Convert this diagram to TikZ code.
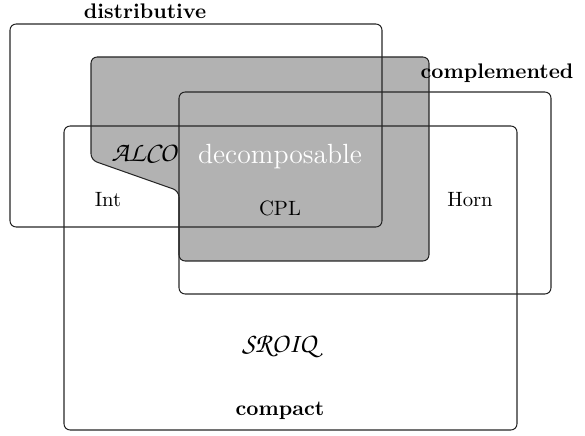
\documentclass[tikz,border=0pt]{standalone}
\newcommand\chancery[1]{{\fontencoding{T1}\fontfamily{pzc}\fontseries{mb}\fontshape{it}\fontsize{13.5}{16}\selectfont #1}}
\begin{document}
\begin{tikzpicture}[x=0.483pt,y=-0.483pt,
  region/.style={draw=black!85,line width=0.5pt,rounded corners=3pt},
  shaded/.style={region,fill=black!30},
  lbl/.style={inner sep=0pt,font=\normalsize},
  title/.style={inner sep=0pt,font=\fontsize{10.2}{12}\bfseries}]
\useasboundingbox (0,0) rectangle (585,436);

% shaded decomposable area
\draw[shaded] (91,57) -- (429,57) -- (429,261) -- (179,261) -- (179,191)
  -- (91,160) -- cycle;

% the four classes
\draw[region] (10,24) rectangle (382,227);    % distributive
\draw[region] (179,92) rectangle (551,294);   % complemented
\draw[region] (64,126) rectangle (517,430);   % compact

% titles
\node[title] (tdist) at (145,11) {distributive};
\node[title] (tcomp) at (497,73) {complemented};
\node[title] (tcpt) at (280,411) {compact};
\node[inner sep=0pt,text=white,font=\fontsize{13.4}{15}\selectfont] (tdec) at (280,157) {decomposable};

% logics
\node[lbl] (alco) at (144,153) {\chancery{ALCO}};
\node[lbl] (int) at (108,200) {Int};
\node[lbl] (cpl) at (280,208) {CPL};
\node[lbl] (horn) at (470,200) {Horn};
\node[lbl] (sroiq) at (279,346) {\chancery{SROIQ}};
\end{tikzpicture}
\end{document}
